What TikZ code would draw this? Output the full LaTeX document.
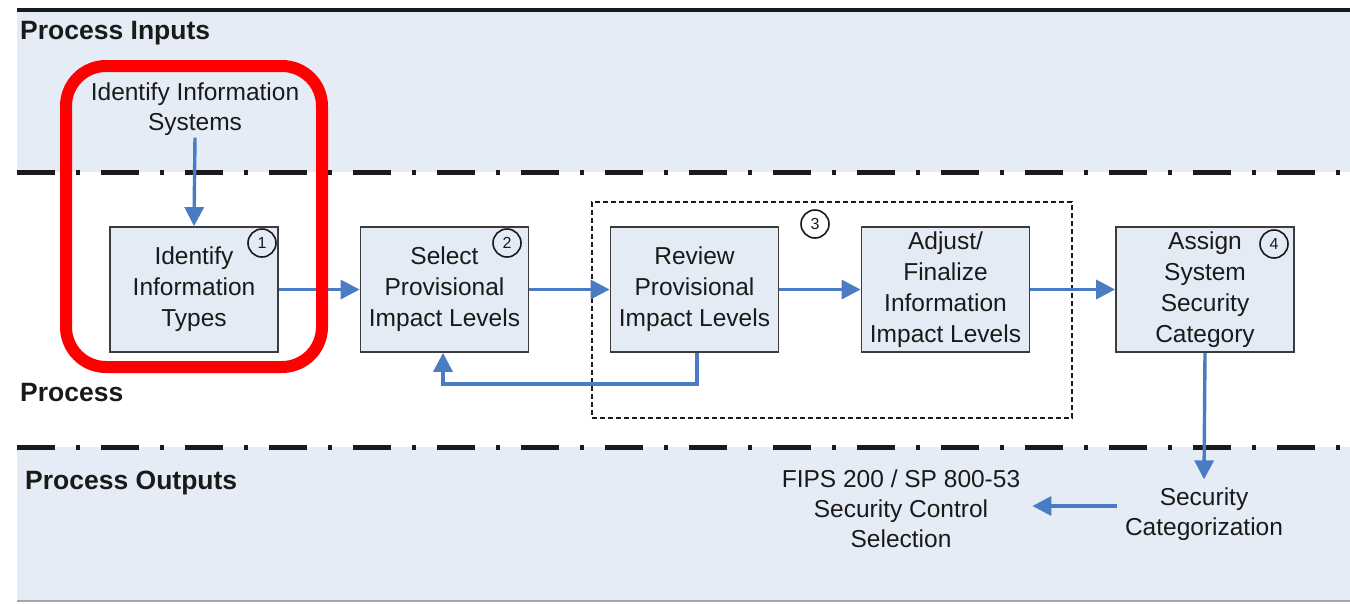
\documentclass[tikz,border=0pt]{standalone}
\usepackage{fontspec}
\setmainfont{Liberation Sans}
\usetikzlibrary{arrows.meta}
\definecolor{bandfill}{HTML}{E6ECF6}
\definecolor{boxfill}{HTML}{E4EBF5}
\definecolor{flow}{HTML}{4A7CC4}
\definecolor{ink}{HTML}{1A1A1A}
\definecolor{hilite}{HTML}{FF0000}
\tikzset{
  stepbox/.style={draw=ink!85, line width=1.8pt, fill=boxfill, minimum width=168pt,
    minimum height=125pt, inner sep=0pt, align=center, text=ink,
    font=\fontsize{24.5}{31}\selectfont},
  plain/.style={align=center, text=ink, inner sep=2pt, font=\fontsize{24.5}{30}\selectfont},
  lanelabel/.style={anchor=west, text=ink, inner sep=0pt, font=\fontsize{26.5}{30}\selectfont\bfseries},
  stepnum/.style={draw=ink, line width=1.6pt, circle, minimum size=28pt, inner sep=0pt,
    text=ink, font=\fontsize{16}{16}\selectfont},
  arr/.style={draw=flow, line width=3.4pt, -{Triangle[length=19pt,width=19pt]}},
  lanerule/.style={line width=5pt, ink, dash pattern=on 38pt off 21pt on 4pt off 21pt}
}
\begin{document}
\begin{tikzpicture}[x=1pt, y=-1pt]
\useasboundingbox (0,0) rectangle (1350,603);

% lanes
\fill[bandfill] (17,12) rectangle (1350,172);
\fill[bandfill] (17,447) rectangle (1350,600);
\draw[line width=4pt, ink] (17,10) -- (1350,10);
\draw[line width=1.5pt, gray!70] (17,601) -- (1350,601);
\draw[lanerule] (17,172) -- (1350,172);
\draw[lanerule] (17,447) -- (1350,447);

\node[lanelabel] (lin)  at (20,33)  {Process Inputs};
\node[lanelabel] (lpr)  at (20,393) {Process};
\node[lanelabel] (lout) at (25,483) {Process Outputs};

% grouping of step 3
\node[draw=ink, line width=1.4pt, dash pattern=on 5pt off 3pt,
      minimum width=480pt, minimum height=216pt, inner sep=0pt] (grp) at (832,310) {};

% process steps
\node[stepbox] (b1) at (194,289.5)  {Identify\\Information\\Types};
\node[stepbox] (b2) at (444.5,289.5) {Select\\Provisional\\Impact Levels};
\node[stepbox] (b3) at (694.5,289.5) {Review\\Provisional\\Impact Levels};
\node[stepbox] (b4) at (945.5,289.5) {Adjust/\\Finalize\\Information\\Impact Levels};
\node[stepbox, minimum width=178pt] (b5) at (1205,289.5) {Assign\\System\\Security\\Category};

\node[stepnum, fill=boxfill] (c1) at (262,243) {1};
\node[stepnum, fill=boxfill] (c2) at (507,243) {2};
\node[stepnum, fill=white]   (c3) at (815,224) {3};
\node[stepnum, fill=boxfill] (c4) at (1274,244) {4};

% inputs and outputs
\node[plain] (sys)  at (195,109) {Identify Information\\Systems};
\node[plain] (sec)  at (1204,514) {Security\\Categorization};
\node[plain] (fips) at (901,509) {FIPS 200 / SP 800-53\\Security Control\\Selection};

% flow
\draw[arr] (sys.south) -- (b1.north);
\draw[arr] (b1.east) -- (b2.west);
\draw[arr] (b2.east) -- (b3.west);
\draw[arr] (b3.east) -- (b4.west);
\draw[arr] (b4.east) -- (b5.west);
\draw[arr] ([xshift=2.5pt]b3.south) -- ++(0,31) -| ([xshift=-1.5pt]b2.south);
\draw[arr] (b5.south) -- ([yshift=6pt]sec.north);
\draw[arr] ([xshift=-6pt,yshift=8pt]sec.west) -- ([xshift=10pt,yshift=8pt]sec.west -| fips.east);

% highlight around step 1
\node[draw=hilite, line width=12pt, rounded corners=40pt, minimum width=256pt,
      minimum height=301pt, inner sep=0pt] (hl) at (194,216.5) {};
\end{tikzpicture}
\end{document}
